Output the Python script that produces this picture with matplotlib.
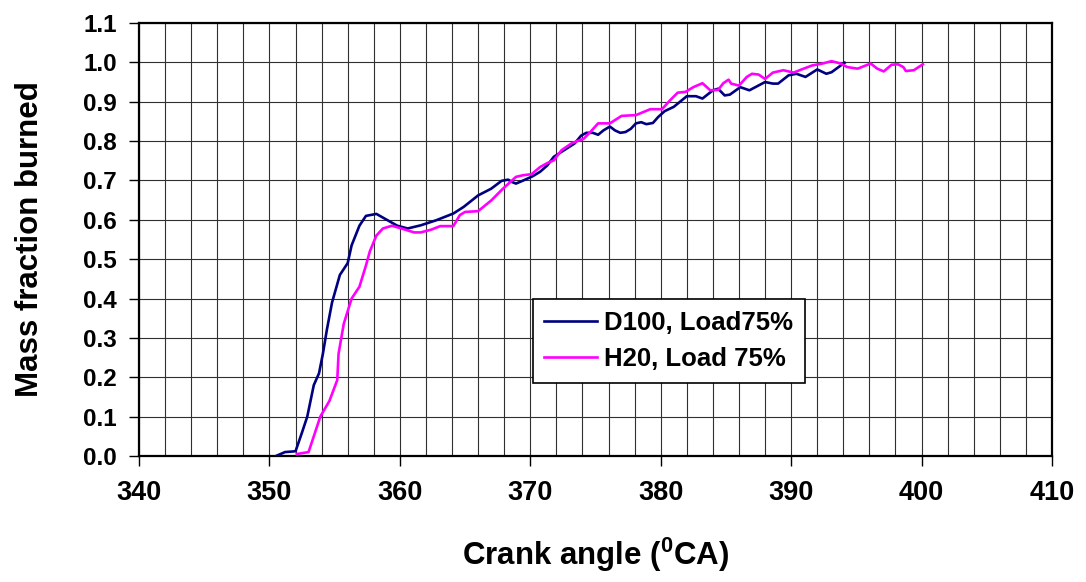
#!/usr/bin/env python3

"""
Mass fraction burned vs crank angle
"""

# =======================
# Imports
# =======================
import matplotlib
matplotlib.use("Agg")
import matplotlib.pyplot as plt
from matplotlib.ticker import MultipleLocator, FormatStrFormatter


# =======================
# Data
# =======================
d100_angle = [
    350.5, 351.2, 352.0, 352.5, 352.9, 353.4, 353.8, 354.1, 354.4, 354.8,
    355.4, 356.0, 356.3, 356.9, 357.4, 358.2, 359.0, 359.8, 360.6, 361.6,
    362.8, 364.1, 364.9, 366.0, 367.0, 367.8, 368.3, 368.6, 368.9, 369.4,
    370.2, 370.75, 371.3, 371.8, 372.6, 373.4, 373.9, 374.3, 374.8, 375.2,
    375.6, 376.1, 376.5, 376.9, 377.3, 377.7, 378.1, 378.5, 378.9, 379.4,
    379.8, 380.3, 381.0, 382.0, 382.7, 383.2, 384.0, 384.4, 384.9, 385.3,
    386.1, 386.8, 388.0, 388.6, 389.0, 389.8, 390.4, 391.1, 392.0, 392.7,
    393.1, 393.8, 394.1,
]
d100_mfb = [
    0.0, 0.01, 0.012, 0.06, 0.10, 0.18, 0.21, 0.26, 0.32, 0.39,
    0.46, 0.49, 0.535, 0.585, 0.61, 0.615, 0.60, 0.585, 0.578, 0.586,
    0.599, 0.616, 0.633, 0.662, 0.679, 0.699, 0.702, 0.696, 0.692, 0.699,
    0.711, 0.722, 0.738, 0.760, 0.777, 0.794, 0.814, 0.821, 0.821, 0.816,
    0.827, 0.837, 0.827, 0.821, 0.823, 0.831, 0.845, 0.848, 0.843, 0.846,
    0.861, 0.876, 0.887, 0.914, 0.914, 0.908, 0.929, 0.933, 0.916, 0.918,
    0.937, 0.929, 0.950, 0.946, 0.946, 0.967, 0.971, 0.963, 0.982, 0.971,
    0.975, 0.992, 0.999,
]

h20_angle = [
    352.1, 353.0, 353.4, 353.9, 354.6, 355.2, 355.3, 355.7, 356.3, 356.9,
    357.4, 357.7, 358.2, 358.7, 359.4, 360.1, 361.1, 361.6, 362.4, 363.1,
    364.1, 364.6, 365.0, 366.0, 367.0, 367.9, 368.9, 369.4, 370.1, 370.75,
    371.3, 371.8, 372.4, 373.2, 374.1, 374.6, 375.2, 376.1, 377.0, 378.1,
    379.2, 380.1, 380.7, 381.3, 381.9, 382.5, 383.2, 383.8, 384.4, 384.8,
    385.2, 385.4, 386.0, 386.6, 387.0, 387.5, 388.0, 388.6, 389.4, 390.2,
    390.8, 391.6, 392.4, 393.1, 393.8, 394.3, 395.1, 396.1, 396.6, 397.1,
    397.7, 398.2, 398.6, 398.8, 399.4, 400.1,
]
h20_mfb = [
    0.005, 0.01, 0.05, 0.10, 0.14, 0.193, 0.26, 0.336, 0.40, 0.43,
    0.484, 0.52, 0.56, 0.578, 0.585, 0.578, 0.568, 0.568, 0.575, 0.584,
    0.584, 0.612, 0.620, 0.622, 0.649, 0.679, 0.709, 0.713, 0.716, 0.734,
    0.744, 0.751, 0.777, 0.795, 0.806, 0.823, 0.845, 0.845, 0.864, 0.866,
    0.881, 0.881, 0.903, 0.923, 0.925, 0.937, 0.947, 0.929, 0.930, 0.947,
    0.956, 0.946, 0.941, 0.963, 0.971, 0.969, 0.958, 0.974, 0.980, 0.974,
    0.982, 0.992, 0.997, 1.003, 0.997, 0.988, 0.984, 0.997, 0.984, 0.977,
    0.994, 0.995, 0.988, 0.978, 0.980, 0.995,
]

series_labels = ["D100, Load75%", "H20, Load 75%"]
series_colors = ["#000080", "#FF00FF"]

# =======================
# Plot
# =======================
plt.rcParams["font.family"] = ["Liberation Sans", "DejaVu Sans"]
plt.rcParams["font.weight"] = "bold"
plt.rcParams["mathtext.fontset"] = "custom"
plt.rcParams["mathtext.rm"] = "Liberation Sans:bold"
plt.rcParams["mathtext.bf"] = "Liberation Sans:bold"

fig = plt.figure(figsize=(10.86, 5.82), dpi=100)
ax = fig.add_axes([0.128, 0.2165, 0.8407, 0.744])

ax.plot(d100_angle, d100_mfb, color=series_colors[0], lw=1.9,
        label=series_labels[0], zorder=3)
ax.plot(h20_angle, h20_mfb, color=series_colors[1], lw=1.9,
        label=series_labels[1], zorder=3)

ax.set_xlim(340, 410)
ax.set_ylim(0, 1.1)

ax.xaxis.set_major_locator(MultipleLocator(10))
ax.xaxis.set_minor_locator(MultipleLocator(2))
ax.yaxis.set_major_locator(MultipleLocator(0.1))
ax.yaxis.set_major_formatter(FormatStrFormatter("%.1f"))

ax.grid(True, which="both", color="#303030", lw=0.8)
ax.set_axisbelow(True)

ax.tick_params(axis="x", which="major", direction="out", length=7,
               width=1, pad=10, labelsize=19.5)
ax.tick_params(axis="y", which="major", direction="out", length=7,
               width=1, pad=9, labelsize=17.5)
ax.tick_params(which="minor", length=0)

for side in ["left", "bottom", "top", "right"]:
    ax.spines[side].set_linewidth(1.6)
    ax.spines[side].set_color("black")

ax.set_xlabel(r"Crank angle ($\mathrm{^{0}}$CA)", fontsize=22.5, fontweight="bold")
ax.xaxis.set_label_coords(0.5, -0.183)
ax.set_ylabel("Mass fraction burned", fontsize=22.5, fontweight="bold")
ax.yaxis.set_label_coords(-0.103, 0.5)

# legend
leg = ax.legend(
    loc="upper left",
    bbox_to_anchor=(0.431, 0.3626),
    fontsize=18.5,
    frameon=True,
    fancybox=False,
    handlelength=2.05,
    handletextpad=0.3,
    labelspacing=0.5,
    borderpad=0.45,
    borderaxespad=0,
)
leg.get_frame().set_edgecolor("black")
leg.get_frame().set_linewidth(1.2)
leg.get_frame().set_alpha(1)
for line in leg.get_lines():
    line.set_linewidth(1.9)

# =======================
# Save
# =======================
fig.savefig("out.png", dpi=100)
plt.close(fig)
